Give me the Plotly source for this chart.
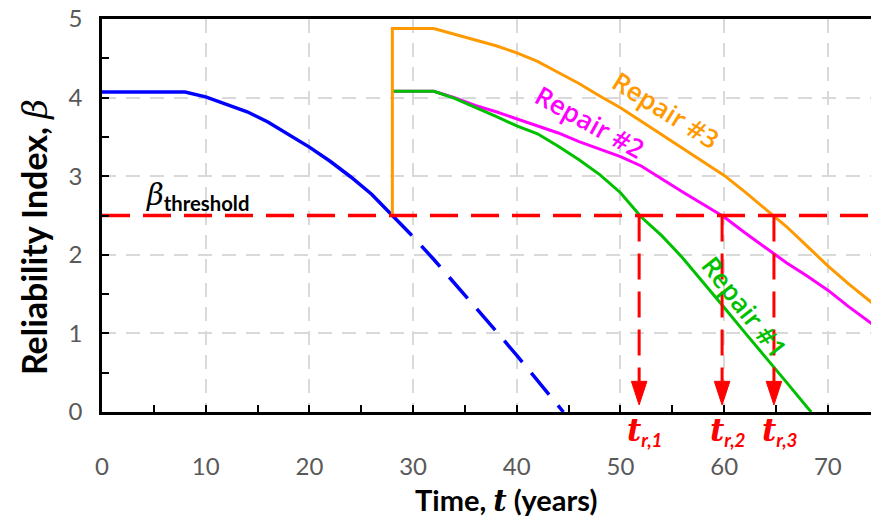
import plotly.graph_objects as go

# Original structure (no repair): solid until threshold, dashed afterwards
t_orig = [0, 8, 10, 12, 14, 16, 18, 20, 22, 24, 26, 28]
beta_orig = [4.07, 4.07, 4.01, 3.92, 3.82, 3.69, 3.53, 3.37, 3.19, 2.99, 2.77, 2.50]
t_orig_ext = [28, 30, 32, 34, 36, 38, 40, 42, 44, 44.5]
beta_orig_ext = [2.50, 2.23, 1.94, 1.64, 1.34, 1.03, 0.72, 0.40, 0.08, 0.0]

# Repair options applied at t = 28 years
t_rep1 = [28, 32, 34, 36, 38, 40, 42, 44, 46, 48, 50, 52, 54, 56, 58, 60, 62, 64, 66, 68, 68.4]
beta_rep1 = [4.08, 4.08, 3.99, 3.88, 3.76, 3.64, 3.54, 3.38, 3.21, 3.02, 2.79, 2.48, 2.24,
             1.96, 1.65, 1.33, 1.01, 0.70, 0.38, 0.06, 0.0]

t_rep2 = [28, 32, 34, 36, 38, 40, 42, 44, 46, 48, 50, 52, 54, 56, 58, 60, 62, 64, 66, 68,
          70, 72, 74, 75]
beta_rep2 = [4.08, 4.08, 4.00, 3.90, 3.82, 3.73, 3.64, 3.55, 3.44, 3.34, 3.25, 3.13, 2.96,
             2.80, 2.64, 2.48, 2.28, 2.09, 1.90, 1.73, 1.55, 1.34, 1.14, 1.05]

t_rep3 = [28, 28, 32, 35, 38, 40, 42, 44, 46, 48, 50, 52, 54, 56, 58, 60, 62, 64, 66, 68,
          70, 72, 74, 75]
beta_rep3 = [2.50, 4.88, 4.88, 4.77, 4.66, 4.57, 4.46, 4.32, 4.18, 4.02, 3.87, 3.70, 3.53,
             3.36, 3.19, 3.01, 2.80, 2.58, 2.36, 2.11, 1.86, 1.63, 1.42, 1.31]

beta_threshold = 2.5
t_r = [51.8, 59.8, 64.8]
t_r_labels = ["1", "2", "3"]

x_range = [0, 74.16]
y_range = [0, 5]

RED = "#FF0000"
SERIF = "font-family:'DejaVu Serif'"
fig = go.Figure()

fig.add_trace(go.Scatter(x=t_orig, y=beta_orig, mode="lines",
                         line=dict(color="#0000FF", width=3.5), showlegend=False))
fig.add_trace(go.Scatter(x=t_orig_ext, y=beta_orig_ext, mode="lines",
                         line=dict(color="#0000FF", width=3.5, dash="28px,14px"),
                         showlegend=False))
fig.add_trace(go.Scatter(x=t_rep2, y=beta_rep2, mode="lines",
                         line=dict(color="#FF00FF", width=3), showlegend=False))
fig.add_trace(go.Scatter(x=t_rep1, y=beta_rep1, mode="lines",
                         line=dict(color="#00C000", width=3), showlegend=False))
fig.add_trace(go.Scatter(x=t_rep3, y=beta_rep3, mode="lines",
                         line=dict(color="#FF9900", width=3), showlegend=False))

# threshold line
fig.add_trace(go.Scatter(x=[x_range[0], 80], y=[beta_threshold, beta_threshold], mode="lines",
                         line=dict(color=RED, width=3.5, dash="28px,13px"), showlegend=False))

# dashed drop lines with arrow heads marking the repair times
head_top, head_tip, head_half = 0.39, 0.09, 0.75
for tr in t_r:
    fig.add_trace(go.Scatter(x=[tr, tr], y=[beta_threshold, head_top], mode="lines",
                             line=dict(color=RED, width=3, dash="26px,12px"), showlegend=False))
    fig.add_trace(go.Scatter(x=[tr - head_half, tr + head_half, tr, tr - head_half],
                             y=[head_top, head_top, head_tip, head_top],
                             mode="lines", fill="toself", fillcolor=RED,
                             line=dict(color=RED, width=1), showlegend=False))

annotations = []
# repair-time labels sit just below the time axis
for tr, lab in zip(t_r, t_r_labels):
    annotations.append(dict(
        x=tr + 0.6, xref="x", y=-0.05, yref="paper", yanchor="middle", showarrow=False,
        text=("<span style=\"%s;font-size:31px\"><b><i>t</i></b></span>"
              "<sub><b><i>r,%s</i></b></sub>" % (SERIF, lab)),
        font=dict(family="Lato", size=27, color=RED)))

annotations.append(dict(
    x=9.2, y=2.74, xref="x", yref="y", showarrow=False,
    text=("<span style=\"%s\"><i>β</i></span><sub><b>threshold</b></sub>" % SERIF),
    font=dict(family="Lato", size=29, color="#000000")))

annotations.append(dict(x=54.4, y=3.84, xref="x", yref="y", showarrow=False, textangle=32,
                        text="Repair #3",
                        font=dict(family="Open Sans", size=26, weight=600, color="#FF9900")))
annotations.append(dict(x=47.1, y=3.69, xref="x", yref="y", showarrow=False, textangle=29,
                        text="Repair #2",
                        font=dict(family="Open Sans", size=26, weight=600, color="#FF00FF")))
annotations.append(dict(x=62.0, y=1.34, xref="x", yref="y", showarrow=False, textangle=52,
                        text="Repair #1",
                        font=dict(family="Open Sans", size=26, weight=600, color="#00C000")))

# axis titles
annotations.append(dict(
    x=0.525, xref="paper", y=0, yref="paper", yshift=-88, yanchor="middle", showarrow=False,
    text="<b>Time, <span style=\"%s\"><i>t</i></span> (years)</b>" % SERIF,
    font=dict(family="Lato", size=29, color="black")))
annotations.append(dict(
    x=0, xref="paper", xshift=-68, xanchor="center", y=0.445, yref="paper", yanchor="middle",
    showarrow=False, textangle=-90,
    text="<b>Reliability Index, </b><span style=\"%s\"><i>β</i></span>" % SERIF,
    font=dict(family="Lato", size=34, color="black")))

fig.update_layout(
    width=871, height=522,
    margin=dict(l=102, r=0, t=19, b=110),
    paper_bgcolor="white", plot_bgcolor="white",
    annotations=annotations,
    xaxis=dict(
        range=x_range, dtick=10, tick0=0,
        showline=True, linecolor="black", linewidth=2.5, mirror=True,
        ticks="inside", ticklen=7, tickwidth=2, tickcolor="black",
        minor=dict(dtick=5, ticks="inside", ticklen=7, tickwidth=2, tickcolor="black",
                   showgrid=False),
        showgrid=True, gridcolor="#D9D9D9", gridwidth=1.5, griddash="14px,10px",
        zeroline=False,
        tickfont=dict(family="Lato", size=24, color="#595959"),
        ticklabelstandoff=31,
    ),
    yaxis=dict(
        range=y_range, dtick=1, tick0=0,
        showline=True, linecolor="black", linewidth=2.5,
        ticks="inside", ticklen=7, tickwidth=2, tickcolor="black",
        minor=dict(dtick=0.5, ticks="inside", ticklen=7, tickwidth=2, tickcolor="black",
                   showgrid=False),
        showgrid=True, gridcolor="#D9D9D9", gridwidth=1.5, griddash="14px,10px",
        zeroline=False,
        tickfont=dict(family="Lato", size=24, color="#595959"),
        ticklabelstandoff=12,
    ),
)

fig.write_html("out.html")
